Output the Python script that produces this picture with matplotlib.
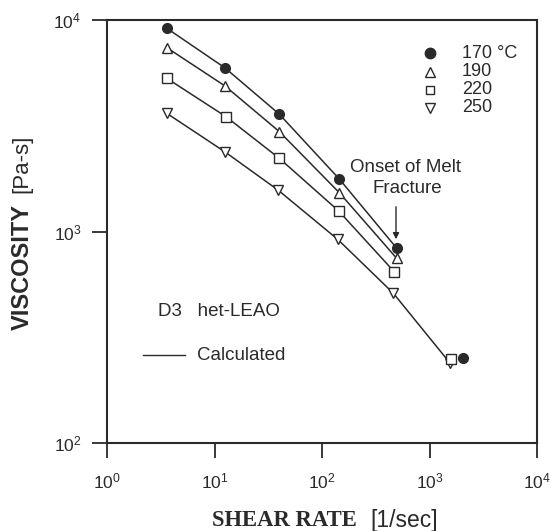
import matplotlib
matplotlib.use("Agg")
import matplotlib.pyplot as plt
from matplotlib.lines import Line2D

plt.rcParams['font.family'] = ['Liberation Sans', 'DejaVu Sans']
plt.rcParams['mathtext.fontset'] = 'custom'
plt.rcParams['mathtext.rm'] = 'Liberation Sans'
plt.rcParams['mathtext.it'] = 'Liberation Sans:italic'
plt.rcParams['mathtext.bf'] = 'Liberation Sans:bold'

# ---- data ----
shear_170 = [3.6, 12.5, 40, 145, 495]
visc_170 = [9140, 5940, 3590, 1770, 834]
shear_190 = [3.6, 12.5, 40, 145, 495]
visc_190 = [7400, 4880, 2970, 1525, 747]
shear_220 = [3.6, 12.8, 40, 143, 470]
visc_220 = [5300, 3490, 2220, 1250, 645]
shear_250 = [3.6, 12.5, 39, 140, 460, 1560]
visc_250 = [3620, 2380, 1570, 918, 511, 238]
# points beyond onset of melt fracture (not on the calculated curves)
extra_shear = [2040, 1600]
extra_visc = [253, 250]

temp_labels = ['170 °C', '190', '220', '250']
xtick_vals = [1, 10, 100, 1000, 10000]
xtick_labels = [r'$\mathregular{10^{0}}$', r'$\mathregular{10^{1}}$', r'$\mathregular{10^{2}}$',
                r'$\mathregular{10^{3}}$', r'$\mathregular{10^{4}}$']
ytick_vals = [100, 1000, 10000]
ytick_labels = [r'$\mathregular{10^{2}}$', r'$\mathregular{10^{3}}$', r'$\mathregular{10^{4}}$']

col = '#2a2a2a'
fig = plt.figure(figsize=(5.54, 5.31), dpi=100)
ax = fig.add_axes([107/554, 1 - 443/531, 430/554, 423/531])
ax.set_xscale('log')
ax.set_yscale('log')
ax.set_xlim(1, 10000)
ax.set_ylim(100, 10000)

lw = 1.1
ax.plot(shear_170, visc_170, '-', color=col, lw=lw)
ax.plot(shear_190, visc_190, '-', color=col, lw=lw)
ax.plot(shear_220, visc_220, '-', color=col, lw=lw)
ax.plot(shear_250, visc_250, '-', color=col, lw=lw)

ax.plot(shear_170, visc_170, 'o', color=col, ms=7, ls='none')
ax.plot(shear_190, visc_190, '^', mfc='white', mec=col, mew=1.0, ms=7, ls='none')
ax.plot(shear_220, visc_220, 's', mfc='white', mec=col, mew=1.0, ms=6.5, ls='none')
ax.plot(shear_250, visc_250, 'v', mfc='white', mec=col, mew=1.0, ms=7, ls='none')
ax.plot(extra_shear[1], extra_visc[1], 's', mfc='white', mec=col, mew=1.0, ms=6.5)
ax.plot(extra_shear[0], extra_visc[0], 'o', color=col, ms=7)

# legend (manual, upper right)
lx = 430
leg_y = [53, 72, 90, 108]
styles = [dict(marker='o', color=col, ms=7.5),
          dict(marker='^', mfc='white', mec=col, mew=1.0, ms=6.5),
          dict(marker='s', mfc='white', mec=col, mew=1.0, ms=6),
          dict(marker='v', mfc='white', mec=col, mew=1.0, ms=6.5)]
for yy, st, lab in zip(leg_y, styles, temp_labels):
    fig.lines.append(Line2D([lx/554], [1 - yy/531], transform=fig.transFigure, ls='none', **st))
    fig.text(462/554, 1 - yy/531, lab, fontsize=13, color=col, va='center', ha='left')

# annotations
fs = 13.5
fig.text(406/554, 1 - 167/531, 'Onset of Melt', fontsize=fs, color=col, ha='center', va='center')
fig.text(407/554, 1 - 189/531, 'Fracture', fontsize=fs, color=col, ha='center', va='center')
ax.annotate('', xy=(396/554, 1 - 242/531), xycoords='figure fraction',
            xytext=(396/554, 1 - 204/531), textcoords='figure fraction',
            arrowprops=dict(arrowstyle='-|>', color=col, lw=1.0, mutation_scale=9))
fig.text(158/554, 1 - 312/531, 'D3   het-LEAO', fontsize=fs, color=col, ha='left', va='center')
fig.lines.append(Line2D([143/554, 185/554], [1 - 355/531, 1 - 355/531],
                        transform=fig.transFigure, color=col, lw=1.0))
fig.text(197/554, 1 - 355/531, 'Calculated', fontsize=fs, color=col, ha='left', va='center')

# ticks
ax.set_xticks(xtick_vals)
ax.set_xticklabels(xtick_labels)
ax.set_yticks(ytick_vals)
ax.set_yticklabels(ytick_labels)
ax.minorticks_off()
ax.tick_params(direction='out', length=10.5, width=1.3, labelsize=12.5, colors=col, pad=8)
ax.tick_params(axis='x', pad=10)
for s in ax.spines.values():
    s.set_linewidth(1.5)
    s.set_color(col)

# axis labels
fig.text(212/554, 1 - 520/531, 'SHEAR RATE', fontsize=16.3, fontweight='bold',
         family='Liberation Serif', color=col, ha='left', va='center')
fig.text(370/554, 1 - 520/531, '[1/sec]', fontsize=16.5, color=col, ha='left', va='center')
fig.text(22/554, 1 - 330/531, 'VISCOSITY', fontsize=17, fontweight='bold', rotation=90,
         color=col, ha='center', va='bottom')
fig.text(22/554, 1 - 193/531, '[Pa-s]', fontsize=16, rotation=90, color=col, ha='center', va='bottom')

fig.savefig('out.png', dpi=100)
